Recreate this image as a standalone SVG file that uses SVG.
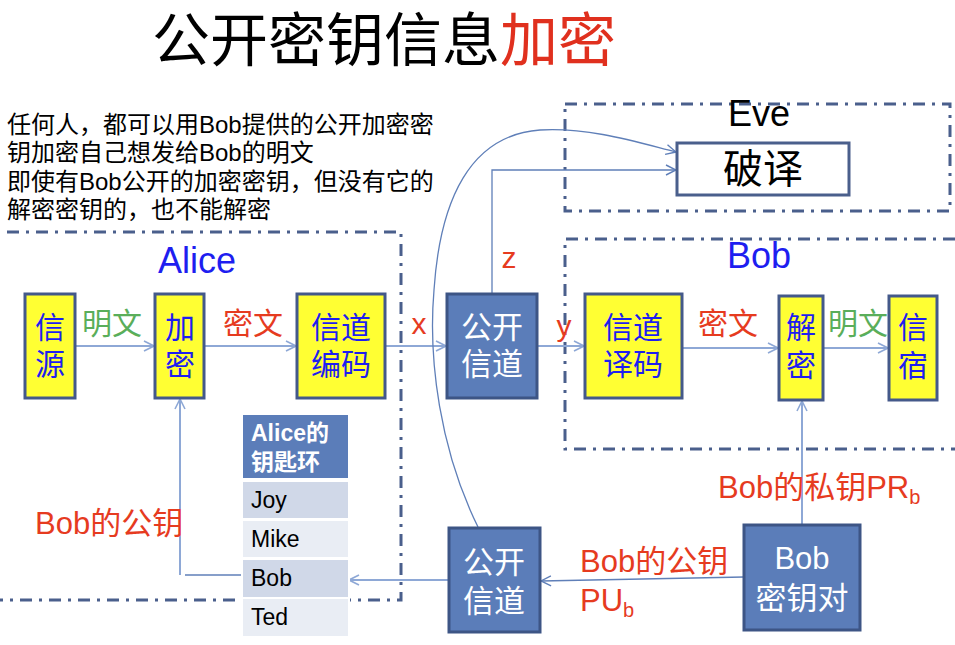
<svg xmlns="http://www.w3.org/2000/svg" width="955" height="645" viewBox="0 0 955 645">
<defs>
<style>
text{font-family:"Liberation Sans","Noto Sans CJK SC",sans-serif;dominant-baseline:central}
.mid{text-anchor:middle}
.frame{fill:none;stroke:#4A5F8C;stroke-width:3;stroke-dasharray:12 7 3 7}
.yb{fill:#FFFF33;stroke:#44598A;stroke-width:3}
.bb{fill:#5B7DB9;stroke:#3D5585;stroke-width:3}
.bt{fill:#1E1EF0;font-size:30px}
.wt{fill:#FFFFFF;font-size:31px}
.red{fill:#E63B1F}
.green{fill:#5AAE5A}
.conn{fill:none;stroke:#8EA8D6;stroke-width:2}
.thin{fill:none;stroke:#5F7FB8;stroke-width:1.3}
.row{font-size:23px;fill:#000000}
.hdr{font-size:23px;font-weight:bold;fill:#FFFFFF}
</style>
<marker id="arr" viewBox="0 0 12 12" refX="11" refY="6" markerWidth="12" markerHeight="12" markerUnits="userSpaceOnUse" orient="auto">
<path d="M1 1 L11 6 L1 11" fill="none" stroke="#8EA8D6" stroke-width="1.6"/>
</marker>
<marker id="arr2" viewBox="0 0 12 12" refX="11" refY="6" markerWidth="12" markerHeight="12" markerUnits="userSpaceOnUse" orient="auto">
<path d="M1 1 L11 6 L1 11" fill="none" stroke="#5F7FB8" stroke-width="1.4"/>
</marker>
</defs>
<rect width="955" height="645" fill="#FFFFFF"/>

<g id="title">
<text x="152" y="40" style="font-size:58px"><tspan fill="#000000">公开密钥信息</tspan><tspan fill="#E0301E">加密</tspan></text>
</g>

<g id="note" style="font-size:24px" fill="#000000">
<text x="7" y="124">任何人，都可以用Bob提供的公开加密密</text>
<text x="7" y="152">钥加密自己想发给Bob的明文</text>
<text x="7" y="181">即使有Bob公开的加密密钥，但没有它的</text>
<text x="7" y="209">解密密钥的，也不能解密</text>
</g>

<g id="frames">
<path class="frame" d="M7 232 H401 V600 H0"/>
<rect class="frame" x="565" y="104" width="385" height="107"/>
<path class="frame" d="M955 239 H565 V449 H955"/>
<text class="mid" x="197" y="260" style="font-size:36px" fill="#1E1EF0">Alice</text>
<text class="mid" x="759" y="113" style="font-size:36px" fill="#000000">Eve</text>
<text class="mid" x="759" y="255" style="font-size:36px" fill="#1E1EF0">Bob</text>
</g>

<g id="connectors">
<line class="conn" x1="75" y1="346" x2="154" y2="346" marker-end="url(#arr)"/>
<line class="conn" x1="204" y1="346" x2="296" y2="346" marker-end="url(#arr)"/>
<line class="conn" x1="385" y1="346" x2="446" y2="346" marker-end="url(#arr)"/>
<line class="conn" x1="537" y1="346" x2="584" y2="346" marker-end="url(#arr)"/>
<line class="conn" x1="682" y1="348" x2="778" y2="348" marker-end="url(#arr)"/>
<line class="conn" x1="823" y1="348" x2="888" y2="348" marker-end="url(#arr)"/>
<polyline class="thin" points="492,294 492,170 676,170" marker-end="url(#arr2)"/>
<path class="thin" d="M478 527 C440 450 428 360 434 290 C440 200 470 135 540 130 C590 127 640 143 676 152" marker-end="url(#arr2)"/>
<line class="conn" x1="802" y1="525" x2="802" y2="401" marker-end="url(#arr)"/>
<line class="thin" x1="744" y1="577" x2="541" y2="581" marker-end="url(#arr2)"/>
<line class="conn" x1="449" y1="580" x2="349" y2="580" marker-end="url(#arr)"/>
<line class="conn" x1="180" y1="575" x2="180" y2="399" marker-end="url(#arr)"/>
<line class="thin" x1="185" y1="575" x2="251" y2="575"/>
</g>

<g id="labels" style="font-size:30px">
<text class="green" x="82" y="323">明文</text>
<text class="red" x="223" y="323">密文</text>
<text class="red mid" x="419" y="323">x</text>
<text class="red mid" x="564" y="325">y</text>
<text class="red mid" x="509" y="257">z</text>
<text class="red" x="698" y="323">密文</text>
<text class="green" x="828" y="323">明文</text>
<text class="red" x="35" y="523" style="font-size:31px">Bob的公钥</text>
<text class="red" x="718" y="487" style="font-size:31px">Bob的私钥PR<tspan style="font-size:20px" dy="10">b</tspan></text>
<text class="red" x="580" y="561" style="font-size:31px">Bob的公钥</text>
<text class="red" x="580" y="600" style="font-size:31px">PU<tspan style="font-size:20px" dy="10">b</tspan></text>
</g>

<g id="source">
<rect class="yb" x="25" y="294" width="50" height="104"/>
<text class="bt mid" x="50" y="327">信</text>
<text class="bt mid" x="50" y="364">源</text>
</g>
<g id="encrypt">
<rect class="yb" x="155" y="294" width="49" height="104"/>
<text class="bt mid" x="180" y="327">加</text>
<text class="bt mid" x="180" y="364">密</text>
</g>
<g id="encode">
<rect class="yb" x="297" y="294" width="88" height="104"/>
<text class="bt mid" x="341" y="327">信道</text>
<text class="bt mid" x="341" y="364">编码</text>
</g>
<g id="channel1">
<rect class="bb" x="447" y="294" width="90" height="104"/>
<text class="wt mid" x="492" y="327">公开</text>
<text class="wt mid" x="492" y="364">信道</text>
</g>
<g id="decode">
<rect class="yb" x="585" y="294" width="97" height="104"/>
<text class="bt mid" x="633" y="327">信道</text>
<text class="bt mid" x="633" y="364">译码</text>
</g>
<g id="decrypt">
<rect class="yb" x="779" y="296" width="44" height="104"/>
<text class="bt mid" x="801" y="327">解</text>
<text class="bt mid" x="801" y="365">密</text>
</g>
<g id="sink">
<rect class="yb" x="889" y="296" width="48" height="104"/>
<text class="bt mid" x="913" y="327">信</text>
<text class="bt mid" x="913" y="365">宿</text>
</g>
<g id="crack">
<rect x="677" y="143" width="172" height="52" fill="#FFFFFF" stroke="#4A5F8C" stroke-width="3"/>
<text class="mid" x="763" y="169" style="font-size:40px" fill="#000000">破译</text>
</g>
<g id="channel2">
<rect class="bb" x="449" y="528" width="91" height="104"/>
<text class="wt mid" x="494" y="562">公开</text>
<text class="wt mid" x="494" y="601">信道</text>
</g>
<g id="keypair">
<rect class="bb" x="744" y="525" width="116" height="105"/>
<text class="wt mid" x="802" y="558">Bob</text>
<text class="wt mid" x="802" y="598">密钥对</text>
</g>
<g id="keyring">
<rect x="241" y="413" width="109" height="225" fill="#FFFFFF"/>
<rect x="243" y="415" width="105" height="63" fill="#5B7DB9"/>
<rect x="243" y="482" width="105" height="36" fill="#D0D8E8"/>
<rect x="243" y="521" width="105" height="36" fill="#E9EDF4"/>
<rect x="243" y="560" width="105" height="37" fill="#D0D8E8"/>
<rect x="243" y="599" width="105" height="37" fill="#E9EDF4"/>
<text class="hdr" x="251" y="433">Alice的</text>
<text class="hdr" x="251" y="462">钥匙环</text>
<text class="row" x="251" y="500">Joy</text>
<text class="row" x="251" y="539">Mike</text>
<text class="row" x="251" y="578">Bob</text>
<text class="row" x="251" y="617">Ted</text>
</g>
</svg>
